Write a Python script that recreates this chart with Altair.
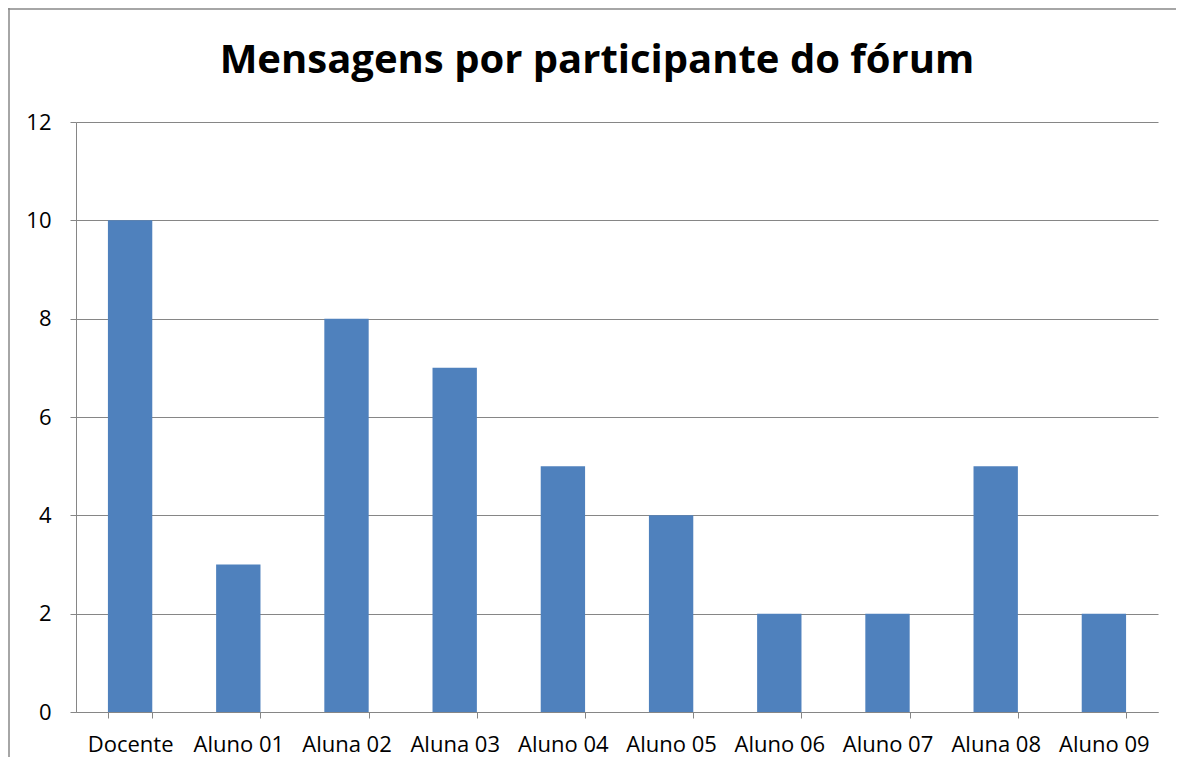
import altair as alt
import pandas as pd

participants = ["Docente", "Aluno 01", "Aluna 02", "Aluna 03", "Aluno 04",
                "Aluno 05", "Aluno 06", "Aluno 07", "Aluna 08", "Aluno 09"]
messages = [10, 3, 8, 7, 5, 4, 2, 2, 5, 2]
y_ticks = [0, 2, 4, 6, 8, 10, 12]

df = pd.DataFrame({"participante": participants, "mensagens": messages})

FONT = "Open Sans"
GRAY = "#868686"

bars = alt.Chart(df).mark_bar(color="#4F81BD").encode(
    x=alt.X("participante:N", sort=participants, title=None,
            scale=alt.Scale(paddingInner=0.59, paddingOuter=0.295),
            axis=alt.Axis(labelAngle=0, tickBand="extent", grid=False,
                          domainColor=GRAY, tickColor=GRAY, tickSize=6,
                          labelFont=FONT, labelFontSize=22, labelColor="black",
                          labelPadding=16)),
    y=alt.Y("mensagens:Q", title=None,
            scale=alt.Scale(domain=[0, 12], nice=False),
            axis=alt.Axis(values=y_ticks, grid=True, gridColor=GRAY,
                          domainColor=GRAY, tickColor=GRAY, tickSize=6,
                          labelFont=FONT, labelFontSize=22, labelColor="black",
                          labelPadding=19)),
)

one = pd.DataFrame({"k": [0]})
top_border = alt.Chart(one).mark_rule(color="#898989", strokeWidth=1.5).encode(
    x=alt.value(-68), x2=alt.value(1100), y=alt.value(-113)
)
left_border = alt.Chart(one).mark_rule(color="#898989", strokeWidth=1.5).encode(
    x=alt.value(-67), y=alt.value(-114), y2=alt.value(635)
)

chart = alt.layer(top_border, left_border, bars).properties(
    width=1082, height=590,
    autosize=alt.AutoSizeParams(type="none"),
    padding={"left": 68, "top": 114, "right": 18, "bottom": 45},
    title=alt.TitleParams("Mensagens por participante do fórum",
                          font=FONT, fontSize=40, fontWeight="bold",
                          color="black", anchor="middle", frame="group",
                          baseline="alphabetic", offset=-106, dx=-20),
).configure_view(stroke=None)

chart.save("out.html", embed_options={"renderer": "svg", "actions": False})
